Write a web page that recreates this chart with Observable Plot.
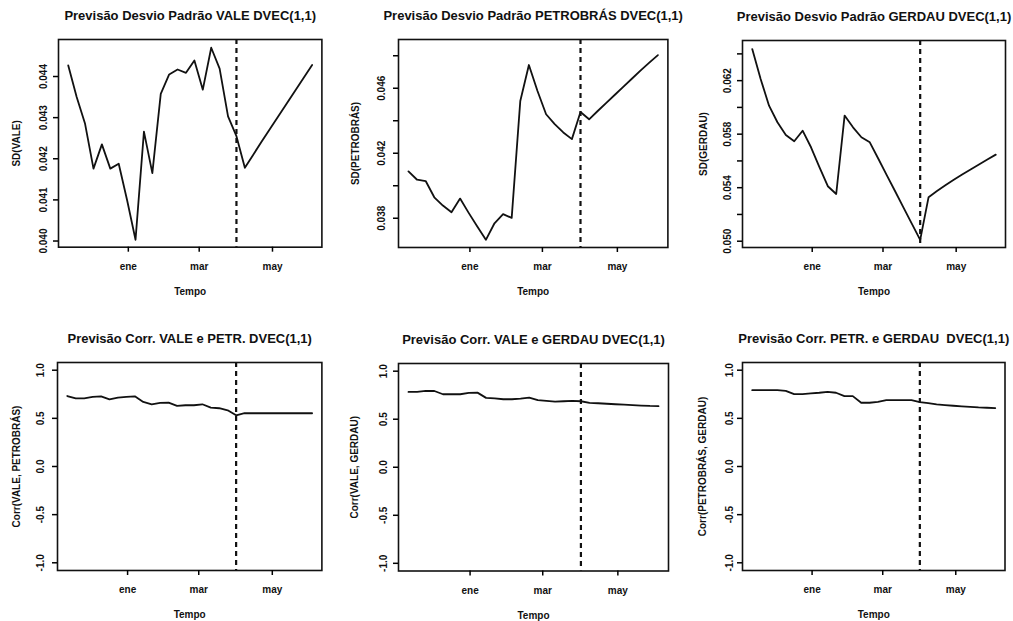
<!DOCTYPE html>
<html><head><meta charset="utf-8">
<script src="https://cdn.jsdelivr.net/npm/d3@7"></script>
<script src="https://cdn.jsdelivr.net/npm/@observablehq/plot@0.6"></script>
<style>
html,body{margin:0;padding:0;background:#fff;overflow:hidden}
#root{position:relative;width:1013px;height:621px;overflow:hidden;background:#fff}
.panel{position:absolute}
</style></head><body><div id="root"></div>
<script>
// weekly dates: observed sample (indices 0..20) and forecast (21..29)
const dates = ["2010-11-12","2010-11-19","2010-11-26","2010-12-03","2010-12-10","2010-12-17","2010-12-24","2010-12-31",
  "2011-01-07","2011-01-14","2011-01-21","2011-01-28","2011-02-04","2011-02-11","2011-02-18","2011-02-25",
  "2011-03-04","2011-03-11","2011-03-18","2011-03-25","2011-04-01","2011-04-08","2011-04-15","2011-04-22",
  "2011-04-29","2011-05-06","2011-05-13","2011-05-20","2011-05-27","2011-06-03"];
const lastObsIndex = 20;

const sdVale = [0.04427,0.04350,0.04285,0.04176,0.04235,0.04176,0.04188,0.04099,0.04003,0.04266,0.04165,0.04358,
  0.04405,0.04417,0.04409,0.04439,0.04368,0.04470,0.04419,0.04303,0.04255,0.04178,0.04210,0.04242,0.04273,
  0.04304,0.04335,0.04366,0.04397,0.04428];
const sdPetro = [0.04088,0.04037,0.04029,0.03929,0.03878,0.03837,0.03921,0.03833,0.03749,0.03667,0.03769,0.03825,
  0.03802,0.04522,0.04743,0.04583,0.04440,0.04379,0.04328,0.04287,0.04454,0.04409,0.04460,0.04510,0.04560,
  0.04610,0.04660,0.04710,0.04758,0.04804];
const sdGerdau = [0.06436,0.06212,0.06013,0.05889,0.05794,0.05747,0.05826,0.05702,0.05553,0.05411,0.05353,0.05939,
  0.05851,0.05777,0.05739,0.05618,0.05496,0.05375,0.05253,0.05132,0.05010,0.05329,0.05375,0.05418,0.05459,
  0.05498,0.05536,0.05573,0.05610,0.05647];
const corrValePetro = [0.732,0.708,0.708,0.722,0.729,0.698,0.715,0.722,0.729,0.670,0.646,0.660,0.663,0.629,0.636,
  0.636,0.646,0.611,0.605,0.584,0.532,0.553,0.553,0.553,0.553,0.553,0.553,0.553,0.553,0.553];
const corrValeGerdau = [0.784,0.784,0.794,0.794,0.760,0.760,0.760,0.774,0.777,0.722,0.718,0.708,0.708,0.715,0.725,
  0.698,0.691,0.684,0.687,0.691,0.687,0.670,0.666,0.661,0.656,0.652,0.647,0.642,0.638,0.636];
const corrPetroGerdau = [0.793,0.793,0.793,0.793,0.786,0.752,0.752,0.759,0.766,0.776,0.766,0.731,0.731,0.662,0.662,
  0.672,0.690,0.690,0.690,0.690,0.669,0.659,0.645,0.638,0.631,0.625,0.619,0.613,0.610,0.607];

const monthTicks = ["2011-01-01","2011-03-01","2011-05-01"];
const monthLabels = ["ene","mar","may"];

const titles = ["Previsão Desvio Padrão VALE DVEC(1,1)","Previsão Desvio Padrão PETROBRÁS DVEC(1,1)",
  "Previsão Desvio Padrão GERDAU DVEC(1,1)","Previsão Corr. VALE e PETR. DVEC(1,1)",
  "Previsão Corr. VALE e GERDAU DVEC(1,1)","Previsão Corr. PETR. e GERDAU  DVEC(1,1)"];
const yLabels = ["SD(VALE)","SD(PETROBRÁS)","SD(GERDAU)","Corr(VALE, PETROBRÁS)","Corr(VALE, GERDAU)","Corr(PETROBRÁS, GERDAU)"];
const series = [sdVale, sdPetro, sdGerdau, corrValePetro, corrValeGerdau, corrPetroGerdau];
const yDomains = [[0.03985,0.04490],[0.0362,0.0490],[0.04953,0.0650],[-1.08,1.08],[-1.08,1.08],[-1.08,1.08]];
const corrTicks = [-1,-0.5,0,0.5,1];
const yTicks = [[0.040,0.041,0.042,0.043,0.044],[0.038,0.040,0.042,0.044,0.046,0.048],
  [0.050,0.052,0.054,0.056,0.058,0.060,0.062,0.064],corrTicks,corrTicks,corrTicks];
const yTickLabels = [[0.040,0.041,0.042,0.043,0.044],[0.038,0.042,0.046],[0.050,0.054,0.058,0.062],corrTicks,corrTicks,corrTicks];
const yDigits = [3,3,3,1,1,1];

// layout: plot box [left, top, right, bottom] in page pixels
const boxes = [[58.3,39,321.7,246.7],[398.3,39,667.7,247],[742,40,1005,247],
  [57.3,362,321.7,570],[397.7,362.5,667.7,570],[741.5,362,1004,570]];
const ylabDx = [-41.6,-43,-39,-40.6,-44,-40];
const yTickDx = [-15,-17,-15,-17,-15,-13];

const font = "'Liberation Sans', Arial, Helvetica, sans-serif";
const parse = s => new Date(s);
const D = dates.map(parse);
const span = D[D.length-1] - D[0];
const xDomain = [new Date(+D[0] - 0.04*span), new Date(+D[D.length-1] + 0.04*span)];
const mt = monthTicks.map(parse);

const root = document.getElementById("root");
const mL = 60, mT = 40, mR = 10, mB = 52;
const txt = {fontWeight: "bold", fill: "#111", textAnchor: "middle", lineAnchor: "middle"};
series.forEach((vals, k) => {
  const [l,t,r,b] = boxes[k];
  const data = vals.map((v,i) => ({date: D[i], value: v}));
  const fmt = d => d.toFixed(yDigits[k]);
  const chart = Plot.plot({
    width: (r-l) + mL + mR,
    height: (b-t) + mT + mB,
    marginLeft: mL, marginTop: mT, marginRight: mR, marginBottom: mB,
    style: {fontFamily: font, background: "none", overflow: "visible", maxWidth: "none", color: "black"},
    x: {type: "utc", domain: xDomain},
    y: {domain: yDomains[k]},
    marks: [
      Plot.line(data, {x: "date", y: "value", stroke: "#111", strokeWidth: 1.8}),
      Plot.ruleX([D[lastObsIndex]], {stroke: "#111", strokeWidth: 2.2, strokeDasharray: "5,4"}),
      Plot.frame({stroke: "#111", strokeWidth: 1.6}),
      Plot.axisX(mt, {tickSize: 5, tickFormat: () => "", label: null, strokeWidth: 1.5}),
      Plot.axisY(yTicks[k], {tickSize: 5, tickFormat: () => "", label: null, strokeWidth: 1.5}),
      Plot.text(mt, {x: d => d, text: (d,i) => monthLabels[i], frameAnchor: "bottom", dy: 19.5, fontSize: 10, ...txt}),
      Plot.text(yTickLabels[k], {y: d => d, text: fmt, frameAnchor: "left", dx: yTickDx[k], rotate: -90, fontSize: 10, ...txt}),
      Plot.text(["Tempo"], {frameAnchor: "bottom", dy: 44.5, fontSize: 10, ...txt}),
      Plot.text([yLabels[k]], {frameAnchor: "left", dx: ylabDx[k], rotate: -90, fontSize: 10, ...txt}),
      Plot.text([titles[k]], {frameAnchor: "top", dy: -24, fontSize: 13, ...txt})
    ]
  });
  const div = document.createElement("div");
  div.className = "panel";
  div.style.left = (l - mL) + "px";
  div.style.top = (t - mT) + "px";
  div.appendChild(chart);
  root.appendChild(div);
});
</script></body></html>
